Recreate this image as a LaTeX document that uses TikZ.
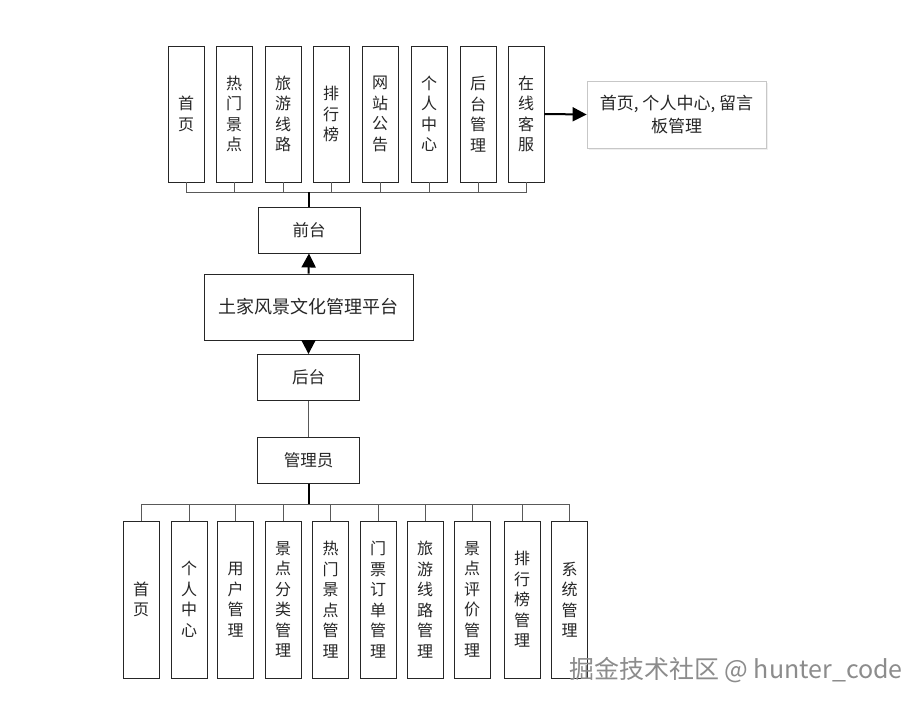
\documentclass[tikz,border=0pt]{standalone}
\usepackage{fontspec}
\newfontfamily\cjk{Noto Sans CJK SC}
\usetikzlibrary{arrows.meta,shadows}
\begin{document}
\begin{tikzpicture}[x=1pt,y=-1pt,
  every node/.style={font=\cjk, text=black!85},
  vbox/.style={draw=black!85, line width=0.9pt, fill=white, minimum width=36pt, minimum height=136pt, inner sep=0pt, align=center, font=\cjk\fontsize{16}{20.5}\selectfont},
  lbox/.style={vbox, minimum height=157pt, font=\cjk\fontsize{16}{20.5}\selectfont},
  hbox/.style={draw=black!85, line width=0.9pt, fill=white, minimum width=102pt, minimum height=46pt, inner sep=0pt, font=\cjk\fontsize{16.5}{20}\selectfont},
  callout/.style={draw=black!22, line width=0.8pt, fill=white, minimum width=179pt, minimum height=67pt, inner sep=0pt, align=center, font=\cjk\fontsize{17}{23}\selectfont, drop shadow={shadow xshift=1.5pt, shadow yshift=-1.5pt, fill=black!12}},
  bus/.style={draw=black!65, line width=0.8pt},
  trunk/.style={draw=black, line width=2pt},
  arr/.style={draw=black, line width=2pt, -{Triangle[width=14pt,length=14pt]}}
]
\useasboundingbox (0,0) rectangle (923,704);
\fill[white] (0,0) rectangle (923,704);

% top row
\node[vbox] (t1) at (186,114) {首\\页};
\node[vbox] (t2) at (234,114) {热\\门\\景\\点};
\node[vbox] (t3) at (283,114) {旅\\游\\线\\路};
\node[vbox] (t4) at (331,114) {排\\行\\榜};
\node[vbox] (t5) at (380,114) {网\\站\\公\\告};
\node[vbox] (t6) at (429,114) {个\\人\\中\\心};
\node[vbox] (t7) at (478,114) {后\\台\\管\\理};
\node[vbox] (t8) at (526,114) {在\\线\\客\\服};
\node[callout] (co) at (676.5,114.5) {首页, 个人中心, 留言\\板管理};

\node[hbox] (qt) at (309,230) {前台};
\node[hbox, minimum width=209pt, minimum height=66pt, font=\cjk\fontsize{18}{20}\selectfont] (plat) at (308.5,307) {土家风景文化管理平台};
\node[hbox] (ht) at (308.5,377.5) {后台};
\node[hbox] (gl) at (308.5,460.5) {管理员};

% bottom row
\node[lbox] (b1) at (141,599.5) {首\\页};
\node[lbox] (b2) at (189,599.5) {个\\人\\中\\心};
\node[lbox] (b3) at (235.5,599.5) {用\\户\\管\\理};
\node[lbox] (b4) at (283,599.5) {景\\点\\分\\类\\管\\理};
\node[lbox] (b5) at (330.5,599.5) {热\\门\\景\\点\\管\\理};
\node[lbox] (b6) at (378,599.5) {门\\票\\订\\单\\管\\理};
\node[lbox] (b7) at (425,599.5) {旅\\游\\线\\路\\管\\理};
\node[lbox] (b8) at (472,599.5) {景\\点\\评\\价\\管\\理};
\node[lbox] (b9) at (522,599.5) {排\\行\\榜\\管\\理};
\node[lbox] (b10) at (569.5,599.5) {系\\统\\管\\理};

% top bus
\coordinate (tb) at (309,192);
\foreach \n in {t1,t2,t3,t4,t5,t6,t7,t8} \draw[bus] (\n.south) |- (tb);
\draw[trunk] (qt.north) -- (qt.north |- tb);

% bottom bus
\coordinate (bb) at (308.5,504);
\foreach \n in {b1,b2,b3,b4,b5,b6,b7,b8,b9,b10} \draw[bus] (\n.north) |- (bb);
\draw[trunk] (gl.south) -- (bb);

% arrows
\draw[arr] (plat.north) -- (qt.south);
\draw[arr] (plat.south) -- (ht.north);
\draw[bus] (ht.south) -- (gl.north);
\draw[arr] (t8.east) -- (co.west);

% watermark
\node[anchor=east, text=black!45, font=\cjk\fontsize{25}{27}\selectfont, inner sep=0pt] (wm) at (903,670) {掘金技术社区 @ hunter\_code};
\end{tikzpicture}
\end{document}
